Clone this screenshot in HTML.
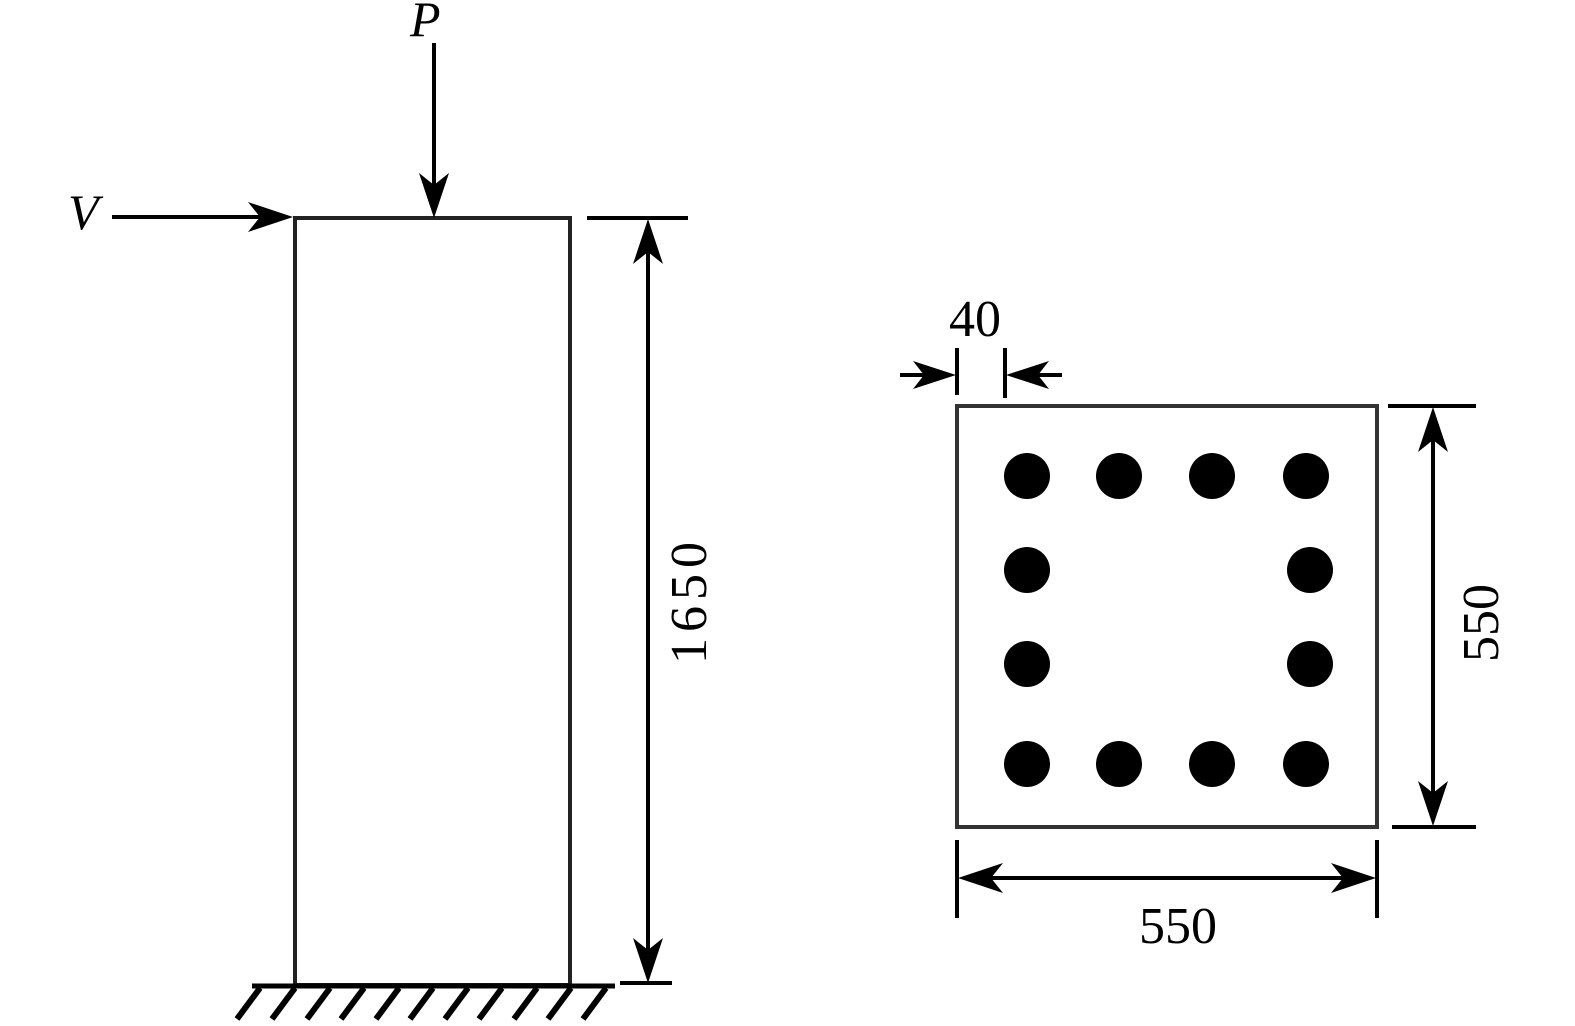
<!DOCTYPE html>
<html><head><meta charset="utf-8"><style>
html,body{margin:0;padding:0;background:#fff;}
svg{display:block;}
text{font-family:"Liberation Serif",serif;fill:#000;}
</style></head><body>
<svg width="1575" height="1026" viewBox="0 0 1575 1026" xmlns="http://www.w3.org/2000/svg">
<g stroke="#000" stroke-width="4" fill="none">
<rect x="295" y="218" width="275" height="767" stroke="#222"/>
<line x1="252" y1="986" x2="615" y2="986" stroke-width="5"/>
<g stroke-width="6">
<line x1="260" y1="988" x2="237" y2="1019"/>
<line x1="295" y1="988" x2="272" y2="1019"/>
<line x1="330" y1="988" x2="307" y2="1019"/>
<line x1="364" y1="988" x2="341" y2="1019"/>
<line x1="399" y1="988" x2="376" y2="1019"/>
<line x1="433" y1="988" x2="410" y2="1019"/>
<line x1="468" y1="988" x2="445" y2="1019"/>
<line x1="502" y1="988" x2="479" y2="1019"/>
<line x1="537" y1="988" x2="514" y2="1019"/>
<line x1="571" y1="988" x2="548" y2="1019"/>
<line x1="606" y1="988" x2="583" y2="1019"/>
</g>
<line x1="112" y1="217" x2="270" y2="217"/>
<line x1="434" y1="43" x2="434" y2="195"/>
<line x1="587" y1="218" x2="688" y2="218"/>
<line x1="620" y1="983" x2="672" y2="983"/>
<line x1="648" y1="240" x2="648" y2="962"/>
<rect x="957" y="406" width="420" height="421" stroke="#333"/>
<line x1="1388" y1="406" x2="1476" y2="406"/>
<line x1="1392" y1="827" x2="1476" y2="827"/>
<line x1="1433" y1="428" x2="1433" y2="805"/>
<line x1="957" y1="840" x2="957" y2="918"/>
<line x1="1377" y1="840" x2="1377" y2="918"/>
<line x1="980" y1="878" x2="1354" y2="878"/>
<line x1="957" y1="348" x2="957" y2="395"/>
<line x1="1005" y1="348" x2="1005" y2="398"/>
<line x1="900" y1="375" x2="935" y2="375"/>
<line x1="1027" y1="375" x2="1062" y2="375"/>
</g>
<g fill="#000">
<polygon points="293,217 248,202 260,217 248,232"/>
<polygon points="434,218 419,173 434,185 449,173"/>
<polygon points="648,219 633,264 648,252 663,264"/>
<polygon points="648,983 633,938 648,950 663,938"/>
<polygon points="1433,407 1418,452 1433,440 1448,452"/>
<polygon points="1433,826 1418,781 1433,793 1448,781"/>
<polygon points="958,878 1003,863 991,878 1003,893"/>
<polygon points="1376,878 1331,863 1343,878 1331,893"/>
<polygon points="956,375 913,361 924,375 913,389"/>
<polygon points="1006,375 1049,361 1038,375 1049,389"/>
<circle cx="1027" cy="476" r="23"/><circle cx="1119" cy="476" r="23"/><circle cx="1212" cy="476" r="23"/><circle cx="1306" cy="476" r="23"/>
<circle cx="1027" cy="570" r="23"/><circle cx="1310" cy="570" r="23"/>
<circle cx="1027" cy="664" r="23"/><circle cx="1310" cy="664" r="23"/>
<circle cx="1027" cy="764" r="23"/><circle cx="1119" cy="764" r="23"/><circle cx="1212" cy="764" r="23"/><circle cx="1306" cy="764" r="23"/>
</g>
<text x="68" y="229" font-size="50" font-style="italic">V</text>
<text x="410" y="36" font-size="50" font-style="italic">P</text>
<text x="0" y="0" font-size="52" letter-spacing="6" text-anchor="middle" transform="translate(706,600) rotate(-90)">1650</text>
<text x="0" y="0" font-size="52" text-anchor="middle" transform="translate(1498,623) rotate(-90)">550</text>
<text x="1178" y="943" font-size="52" text-anchor="middle">550</text>
<text x="975" y="336" font-size="52" text-anchor="middle">40</text>
</svg>
</body></html>
